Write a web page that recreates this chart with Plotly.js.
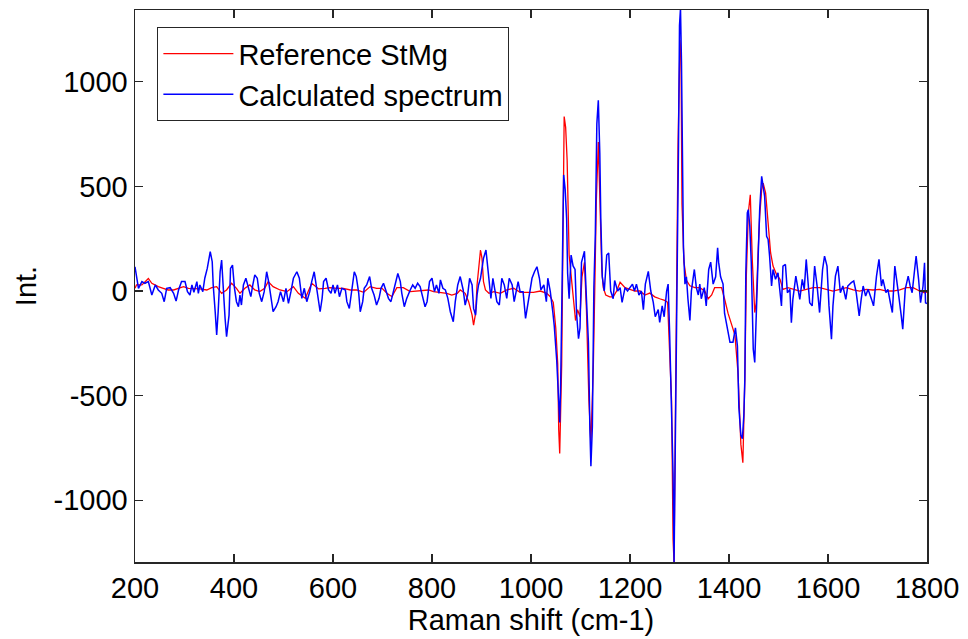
<!DOCTYPE html>
<html>
<head>
<meta charset="utf-8">
<script src="https://cdn.plot.ly/plotly-3.0.1.min.js"></script>
<style>html,body{margin:0;padding:0;background:#fff;}#chart{width:968px;height:639px;}</style>
</head>
<body>
<div id="chart"></div>
<script>
// Reference StMg spectrum (Raman shift, intensity)
const refShift = [200,203,214,227,234,247,257,267,278,288,298,308,318,331,345,355,365,375,385,395,405,412,422,432,442,452,462,469,479,493,
507,520,530,544,557,571,584,594,608,621,635,648,662,675,688,699,709,719,729,742,756,769,783,793,
803,817,830,840,851,857,867,874,881,884,888,891,894,898,901,904,908,915,925,938,951,965,978,992,1005,1019,1032,1039,1045,
1050,1054,1056,1058,1062,1064,1067,1070,1073,1077,1081,1085,1090,1094,1099,1103,1108,1112,1117,1121,1126,1129,1132,1136,1139,1143,1146,1151,1159,1166,1173,1180,1190,1200,1210,1220,1230,1240,1250,1260,1270,1276,1280,1284,1287,1289,1292,1295,1297,1301,1303,1305,1309,1314,1321,1331,1341,1351,1358,1365,1371,1378,1385,1391,1398,1405,1412,1418,1424,1428,
1432,1435,1439,1443,1447,1452,1455,1459,1462,1466,1469,1474,1479,1484,1489,1496,1503,1509,1519,1530,1543,1556,1570,1583,1597,1610,1624,1637,1651,1664,1677,1691,1704,1718,1731,1745,1758,1772,1785,1795,1800];
const refInt = [13,29,29,60,37,21,13,5,5,13,21,13,13,10,5,16,21,-11,5,37,13,-11,13,29,5,-3,13,45,21,5,
-3,21,-11,-35,37,10,13,16,13,13,5,5,-6,21,13,13,-11,-27,16,16,-3,0,5,5,
-3,-6,-11,-19,-11,5,-11,-51,-115,-163,-107,29,108,196,156,45,5,-11,-3,-11,5,13,-6,-6,-6,0,-11,-27,-54,
-176,-350,-663,-776,-350,242,834,782,625,172,68,0,-141,-89,-123,68,137,-89,-524,-730,-350,33,433,712,433,103,16,-19,-28,-28,0,42,16,7,0,0,-19,-10,-28,-37,-45,-54,-280,-524,-1185,-1300,-524,172,695,1200,1130,416,138,51,25,16,16,0,-37,-19,16,16,16,-37,-106,-158,-211,-385,-733,-820,
-420,71,373,460,151,-103,-56,198,357,484,516,468,309,183,119,79,56,8,16,8,0,8,16,16,8,0,8,16,5,0,8,5,8,0,0,5,16,16,0,-8,-5];

// Calculated spectrum (Raman shift, intensity)
const calcShift = [200,207,214,220,227,234,241,247,254,259,264,271,278,283,288,294,301,306,311,315,319,325,328,331,337,341,346,352,356,358,362,365,368,372,375,378,382,385,390,393,397,401,405,409,412,415,419,424,429,434,438,442,447,451,456,461,466,470,475,479,485,489,
494,500,505,510,515,520,527,532,537,542,547,553,557,562,566,571,574,578,581,586,591,596,600,604,609,613,618,625,628,633,638,643,647,652,655,660,663,668,674,678,683,688,693,697,702,707,712,717,722,728,731,736,739,744,749,756,761,766,771,776,781,786,
790,795,800,805,809,814,817,822,827,832,837,843,847,852,857,863,867,872,876,881,884,888,891,894,898,901,904,909,912,916,919,923,927,931,936,941,946,951,956,962,966,970,974,978,984,989,993,997,1002,1007,1012,1017,1020,1026,1031,1034,1039,1044,1047,
1052,1055,1058,1060,1063,1066,1069,1072,1074,1077,1081,1085,1089,1092,1096,1099,1102,1108,1112,1116,1119,1121,1124,1127,1130,1133,1136,1139,1141,1144,1148,1153,1157,1161,1166,1169,1175,1180,1184,1190,1195,1200,1205,1209,1213,1218,1223,1227,1231,1237,1242,1247,1251,1257,1260,1265,1269,1274,1277,1280,1284,1287,1289,1291,1294,1296,1298,1300,1302,1304,1306,1308,1311,1314,1317,1321,1324,1330,1334,1338,1341,1344,1350,1354,1359,1363,1368,1373,1377,1379,1383,1388,1391,1397,1402,1408,1413,1417,1420,1424,
1427,1430,1432,1434,1437,1439,1442,1445,1449,1452,1455,1459,1462,1466,1469,1472,1476,1479,1482,1486,1489,1494,1499,1503,1506,1509,1514,1518,1523,1526,1529,1535,1539,1543,1548,1552,1556,1560,1563,1568,1573,1578,1583,1589,1593,1598,1602,1607,1610,1615,1620,1625,1630,1636,1640,1647,1652,1657,1663,1667,1671,1676,1681,1688,1692,1698,1703,1708,1711,1717,1721,1726,1730,1735,1738,1743,1748,1751,1756,1762,1766,1770,1775,1778,1783,1787,1792,1795,1797,1800];
const calcInt = [116,13,45,37,45,-19,29,5,-11,-51,13,16,-11,-48,5,45,45,-3,-19,29,-6,45,-11,29,-3,61,108,188,140,29,-99,-210,-99,92,148,-3,-131,-218,-115,108,124,13,-51,-75,-19,-67,29,61,13,-27,29,77,61,-11,-51,-3,92,45,-35,-99,-75,-51,
-3,-51,13,-59,-3,61,92,61,-35,13,-51,-3,45,92,29,-51,-99,-35,45,61,5,-11,29,-11,29,-27,13,5,-51,-83,13,92,69,-11,-99,-51,13,29,69,13,-19,-67,-35,13,37,-3,-35,-51,-3,61,84,45,-11,-75,-35,5,29,13,37,21,-35,-75,
-51,45,61,-3,29,-11,53,13,5,-35,-99,-147,-51,29,69,5,-67,-19,61,29,-83,-115,-19,29,61,124,156,196,124,29,-35,61,5,-51,-67,61,29,-35,61,29,-51,5,45,-3,-3,-131,-75,-3,61,92,116,61,5,29,-51,61,-3,-99,-167,
-333,-524,-628,-437,172,555,486,346,85,-37,172,120,103,-106,-228,-176,137,190,-37,-245,-663,-837,-646,16,277,799,912,660,346,68,0,172,181,0,-37,50,0,16,-54,16,0,16,33,0,33,-19,0,-89,33,94,0,-54,-123,-89,-150,-71,-123,0,33,-193,-524,-872,-1300,-872,-420,172,695,1269,1350,1095,381,207,33,68,-37,-141,0,103,16,-19,33,-37,16,-71,103,138,33,68,207,138,68,33,-106,-176,-245,-245,-176,-263,-559,-690,
-706,-594,-420,87,373,389,310,135,-278,-341,-87,198,389,548,500,452,262,246,167,24,103,56,87,-8,-71,119,127,-8,8,-151,-40,71,24,-40,56,8,151,24,-56,-71,119,24,-103,103,167,119,-71,-230,-71,71,119,-8,24,-40,24,40,48,-8,-119,-40,24,-24,8,-40,-71,71,151,24,56,-8,8,-56,-103,119,56,-24,-119,-182,8,71,24,-8,103,167,56,-56,24,135,-56,-60];

const xTicks = [200,400,600,800,1000,1200,1400,1600,1800];
const yTicks = [-1000,-500,0,500,1000];

const FONT = 'Liberation Sans, Arial, sans-serif';
const traces = [
  {x: refShift, y: refInt, type: 'scatter', mode: 'lines', name: 'Reference StMg',
   line: {color: '#ff0000', width: 1.3}},
  {x: calcShift, y: calcInt, type: 'scatter', mode: 'lines', name: 'Calculated spectrum',
   line: {color: '#0000ff', width: 1.5}}
];
const axisCommon = {
  showgrid: false, zeroline: false, showline: true, linecolor: '#262626', linewidth: 1.5,
  mirror: 'ticks', ticks: 'inside', ticklen: 8, tickwidth: 1.2, tickcolor: '#262626',
  tickfont: {family: FONT, size: 29, color: '#000'}
};
const layout = {
  width: 968, height: 639,
  margin: {l: 135, r: 41, t: 10, b: 77},
  paper_bgcolor: '#fff', plot_bgcolor: '#fff',
  showlegend: true,
  legend: {x: 0.028, y: 0.969, xanchor: 'left', yanchor: 'top', itemwidth: 70,
    bgcolor: '#fff', bordercolor: '#262626', borderwidth: 1.2,
    font: {family: FONT, size: 29, color: '#000'}, tracegroupgap: 0},
  xaxis: Object.assign({}, axisCommon, {range: [200, 1800], tickmode: 'array', tickvals: xTicks,
    ticktext: xTicks.map(String),
    title: {text: 'Raman shift (cm-1)', font: {family: FONT, size: 29, color: '#000'}, standoff: 6}}),
  yaxis: Object.assign({}, axisCommon, {range: [-1295, 1343], tickmode: 'array', tickvals: yTicks,
    ticktext: yTicks.map(String),
    title: {text: 'Int.', font: {family: FONT, size: 29, color: '#000'}, standoff: 8}})
};
Plotly.newPlot('chart', traces, layout, {displayModeBar: false, staticPlot: true});
</script>
</body>
</html>
